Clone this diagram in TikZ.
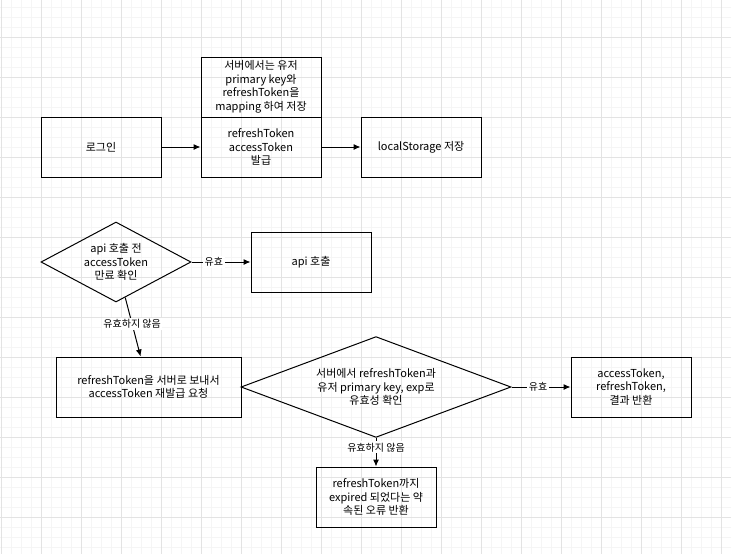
\documentclass[tikz,border=0pt]{standalone}
\usepackage{fontspec}
\setmainfont{Noto Sans CJK KR}
\usetikzlibrary{shapes.geometric,arrows.meta}
\begin{document}
\begin{tikzpicture}[x=1pt,y=-1pt,
  box/.style={draw,line width=1pt,minimum width=120pt,minimum height=60pt,align=center,inner sep=0pt,font=\fontsize{11}{13.5}\selectfont},
  dia/.style={draw,line width=1pt,diamond,aspect=1.875,align=center,inner sep=0pt,font=\fontsize{11}{13.5}\selectfont},
  lbl/.style={fill=white,inner sep=1.5pt,font=\fontsize{10}{12}\selectfont},
  arr/.style={line width=1pt,-{Latex[length=7pt,width=6pt]}}]
\useasboundingbox (0,0) rectangle (731,554);
\fill[white] (0,0) rectangle (731,554);
\foreach \x in {1,11,...,731} \draw[black!4,line width=0.8pt] (\x,0) -- (\x,554);
\foreach \y in {7,17,...,554} \draw[black!4,line width=0.8pt] (0,\y) -- (731,\y);
\foreach \x in {1,41,...,731} \draw[black!11,line width=0.8pt] (\x,0) -- (\x,554);
\foreach \y in {37,77,...,554} \draw[black!11,line width=0.8pt] (0,\y) -- (731,\y);
\node[box] (login) at (101,147) {로그인};
\node[box] (note) at (261,87) {서버에서는 유저\\primary key와\\refreshToken을\\mapping 하여 저장};
\node[box] (issue) at (261,147) {refreshToken\\accessToken\\발급};
\node[box] (store) at (421,147) {localStorage 저장};
\node[dia,minimum width=150pt,minimum height=80pt] (d1) at (116,262) {api 호출 전\\accessToken\\만료 확인};
\node[box] (api) at (311,262) {api 호출};
\node[box,minimum width=185pt] (re) at (148.5,387) {refreshToken을 서버로 보내서\\accessToken 재발급 요청};
\node[dia,minimum width=270pt,minimum height=100pt] (d2) at (376,387) {서버에서 refreshToken과\\유저 primary key, exp로\\유효성 확인};
\node[box] (res) at (631,387) {accessToken,\\refreshToken,\\결과 반환};
\node[box] (exp) at (376,497) {refreshToken까지\\expired 되었다는 약\\속된 오류 반환};
\draw[arr] (login) -- (issue);
\draw[arr] (issue) -- (store);
\draw[arr] (d1) -- node[lbl,pos=0.38]{유효} (api);
\draw[arr] (d1) -- node[lbl,pos=0.45]{유효하지 않음} (re);
\draw[arr] (d2) -- node[lbl,pos=0.45]{유효} (res);
\draw[arr] (d2) -- node[lbl,pos=0.33]{유효하지 않음} (exp);
\end{tikzpicture}
\end{document}
